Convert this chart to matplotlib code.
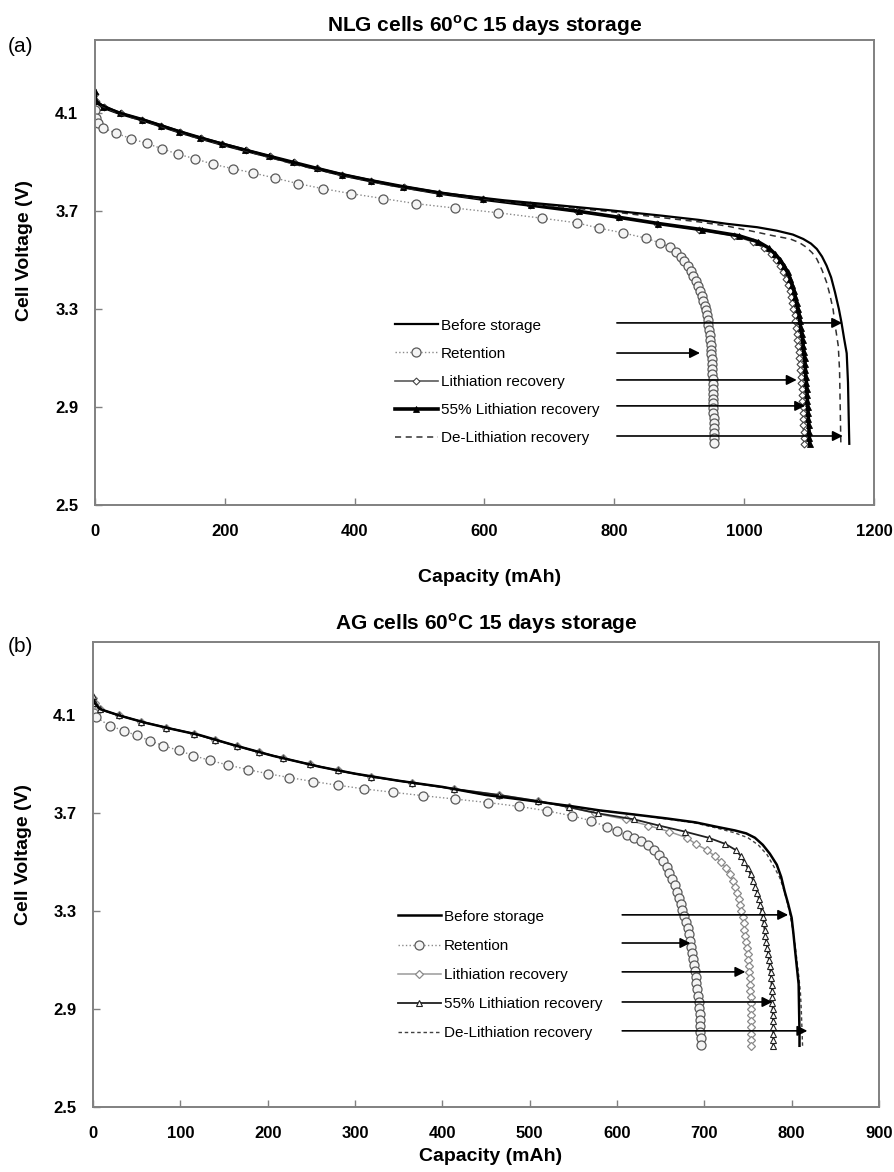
import matplotlib
matplotlib.use("Agg")
import matplotlib.pyplot as plt

plt.rcParams["font.family"] = ["Liberation Sans", "DejaVu Sans"]
plt.rcParams["mathtext.fontset"] = "custom"
plt.rcParams["mathtext.rm"] = "Liberation Sans"
plt.rcParams["mathtext.bf"] = "Liberation Sans:bold"

# ---------------- (a) NLG cells ----------------
nlg_before_cap = [0, 2, 10, 40, 80, 150, 234, 310, 388, 465, 542, 630, 716, 790, 870, 930, 973,
                  1020, 1050, 1075, 1091, 1103, 1112, 1120, 1127, 1134, 1140, 1146, 1150, 1154,
                  1158, 1160, 1161, 1162]
nlg_before_v = [4.17, 4.15, 4.135, 4.10, 4.07, 4.01, 3.95, 3.895, 3.847, 3.805, 3.772, 3.745, 3.724,
                3.705, 3.683, 3.665, 3.649, 3.635, 3.621, 3.605, 3.587, 3.568, 3.546, 3.515, 3.478,
                3.43, 3.369, 3.30, 3.245, 3.18, 3.12, 3.0, 2.87, 2.75]

nlg_ret_cap = [0, 1, 4, 13, 33, 56, 80, 103, 128, 154, 182, 213, 243, 277, 313, 352, 395, 444, 495,
               555, 621, 688, 742, 777, 813, 849, 870, 886, 895, 902, 908, 913, 918, 922, 926, 929,
               932, 935, 937, 939, 941, 943, 944, 945, 946, 947, 948, 948.5, 949, 949.5, 950, 950.5,
               951, 951, 951.5, 951.5, 952, 952, 952, 952.5, 952.5, 952.5, 953, 953, 953, 953, 953,
               953]
nlg_ret_v = [4.113, 4.08, 4.06, 4.04, 4.018, 3.997, 3.977, 3.956, 3.933, 3.915, 3.892, 3.874, 3.857,
             3.836, 3.813, 3.792, 3.772, 3.752, 3.731, 3.713, 3.694, 3.672, 3.653, 3.631, 3.612,
             3.590, 3.571, 3.553, 3.535, 3.515, 3.495, 3.475, 3.455, 3.435, 3.415, 3.395, 3.375,
             3.355, 3.335, 3.315, 3.295, 3.275, 3.255, 3.235, 3.215, 3.195, 3.175, 3.155, 3.135,
             3.115, 3.095, 3.075, 3.055, 3.035, 3.015, 2.995, 2.975, 2.955, 2.935, 2.915, 2.895,
             2.875, 2.855, 2.835, 2.815, 2.795, 2.775, 2.755]

nlg_lith_cap = [0, 1, 14, 40, 73, 102, 131, 163, 196, 232, 270, 306, 342, 380, 425, 476, 530, 597,
                670, 742, 806, 866, 930, 985, 1014, 1031, 1042, 1049, 1055, 1060, 1064, 1067, 1070,
                1072, 1074, 1076, 1078, 1079, 1080, 1081, 1082, 1083, 1084, 1085, 1086, 1086.5,
                1087, 1088, 1088.5, 1089, 1089.5, 1090, 1090.5, 1091, 1091, 1091.5, 1092, 1092]
nlg_lith_v = [4.18, 4.15, 4.125, 4.10, 4.075, 4.05, 4.025, 4.0, 3.975, 3.95, 3.925, 3.90, 3.875,
              3.85, 3.825, 3.80, 3.775, 3.75, 3.725, 3.70, 3.675, 3.65, 3.625, 3.60, 3.575, 3.55,
              3.525, 3.50, 3.475, 3.45, 3.425, 3.40, 3.375, 3.35, 3.325, 3.30, 3.275, 3.25, 3.225,
              3.20, 3.175, 3.15, 3.125, 3.10, 3.075, 3.05, 3.025, 3.00, 2.975, 2.95, 2.925, 2.90,
              2.875, 2.85, 2.825, 2.80, 2.775, 2.75]

nlg_l55_cap = [0, 1, 13, 39, 72, 101, 130, 162, 195, 231, 268, 305, 342, 380, 425, 475, 530, 597,
               672, 745, 808, 868, 935, 992, 1022, 1038, 1048, 1056, 1062, 1067, 1071, 1074, 1077,
               1079, 1081, 1083, 1085, 1086, 1087, 1089, 1090, 1091, 1092, 1093, 1094, 1094.5,
               1095, 1096, 1096.5, 1097, 1097.5, 1098, 1098.5, 1099, 1099.5, 1100, 1100.5, 1101]
nlg_l55_v = [4.19, 4.15, 4.125, 4.10, 4.075, 4.05, 4.025, 4.0, 3.975, 3.95, 3.925, 3.90, 3.875,
             3.85, 3.825, 3.80, 3.775, 3.75, 3.725, 3.70, 3.675, 3.65, 3.625, 3.60, 3.575, 3.55,
             3.525, 3.50, 3.475, 3.45, 3.425, 3.40, 3.375, 3.35, 3.325, 3.30, 3.275, 3.25, 3.225,
             3.20, 3.175, 3.15, 3.125, 3.10, 3.075, 3.05, 3.025, 3.00, 2.975, 2.95, 2.925, 2.90,
             2.875, 2.85, 2.825, 2.80, 2.775, 2.75]

nlg_deli_cap = [0, 2, 10, 40, 80, 150, 234, 310, 388, 465, 542, 630, 716, 790, 870, 930, 973, 1010,
                1045, 1071, 1085, 1096, 1105, 1112, 1120, 1127, 1132, 1137, 1141, 1145, 1147, 1148,
                1149]
nlg_deli_v = [4.17, 4.15, 4.13, 4.095, 4.065, 4.005, 3.945, 3.89, 3.842, 3.80, 3.768, 3.74, 3.718,
              3.70, 3.675, 3.657, 3.64, 3.62, 3.60, 3.587, 3.572, 3.553, 3.53, 3.505, 3.46, 3.41,
              3.36, 3.30, 3.22, 3.15, 3.05, 2.90, 2.75]

# arrows: voltage level, tip capacity, common start capacity
nlg_arrow_v = [3.244, 3.121, 3.011, 2.905, 2.782]
nlg_arrow_tip = [1151, 932, 1081, 1094, 1152]
nlg_arrow_start = 804

# ---------------- (b) AG cells ----------------
ag_before_cap = [0, 2, 8, 30, 60, 90, 122, 160, 206, 260, 300, 350, 400, 450, 500, 550, 580, 620,
                 657, 690, 714, 735, 748, 758, 767, 775, 783, 788, 792, 796, 800, 802, 804, 806, 808,
                 808.5, 809, 809]
ag_before_v = [4.17, 4.15, 4.126, 4.10, 4.07, 4.045, 4.02, 3.98, 3.935, 3.89, 3.862, 3.833, 3.808,
               3.775, 3.752, 3.728, 3.712, 3.695, 3.679, 3.663, 3.645, 3.63, 3.618, 3.60, 3.571,
               3.535, 3.49, 3.44, 3.381, 3.33, 3.273, 3.21, 3.138, 3.07, 3.002, 2.9, 2.8, 2.75]

ag_ret_cap = [0, 1, 4, 19, 35, 50, 65, 80, 98, 115, 134, 155, 177, 200, 225, 252, 280, 310, 343,
              378, 415, 452, 488, 520, 548, 570, 588, 600, 611, 620, 628, 636, 642, 648, 653, 657,
              660, 663, 666, 669, 671, 673, 675, 677, 679, 681, 683, 684, 685, 686, 687, 688, 689,
              690, 691, 692, 693, 693.5, 694, 694.5, 695, 695, 695.5, 696, 696]
ag_ret_v = [4.13, 4.11, 4.092, 4.058, 4.038, 4.018, 3.997, 3.977, 3.957, 3.936, 3.916, 3.897,
            3.879, 3.862, 3.846, 3.83, 3.815, 3.80, 3.786, 3.772, 3.758, 3.744, 3.728, 3.71, 3.69,
            3.67, 3.645, 3.628, 3.611, 3.598, 3.586, 3.57, 3.552, 3.53, 3.505, 3.48, 3.455, 3.43,
            3.405, 3.38, 3.355, 3.33, 3.305, 3.28, 3.255, 3.23, 3.205, 3.18, 3.155, 3.13, 3.105,
            3.08, 3.055, 3.03, 3.005, 2.98, 2.955, 2.93, 2.905, 2.88, 2.855, 2.83, 2.805, 2.78,
            2.755]

ag_lith_cap = [0, 2, 8, 30, 55, 84, 116, 140, 165, 190, 218, 248, 280, 318, 365, 413, 465, 510,
               545, 575, 610, 636, 660, 680, 690, 703, 712, 719, 725, 729, 733, 735.5, 737.5, 739.5,
               741, 742.5, 744, 745, 746, 747, 748, 748.8, 749.5, 750.2, 750.8, 751.3, 751.8, 752.2,
               752.6, 753, 753.3, 753.5, 753.7, 753.9, 754, 754, 754, 754]
ag_lith_v = [4.17, 4.15, 4.125, 4.10, 4.075, 4.05, 4.025, 4.0, 3.975, 3.95, 3.925, 3.90, 3.875,
             3.85, 3.825, 3.80, 3.775, 3.75, 3.725, 3.70, 3.675, 3.65, 3.625, 3.60, 3.575, 3.55,
             3.525, 3.50, 3.475, 3.45, 3.425, 3.40, 3.375, 3.35, 3.325, 3.30, 3.275, 3.25, 3.225,
             3.20, 3.175, 3.15, 3.125, 3.10, 3.075, 3.05, 3.025, 3.00, 2.975, 2.95, 2.925, 2.90,
             2.875, 2.85, 2.825, 2.80, 2.775, 2.75]

ag_l55_cap = [0, 2, 8, 30, 55, 84, 116, 140, 165, 190, 218, 248, 280, 318, 365, 413, 465, 510, 545,
              578, 620, 648, 678, 705, 724, 736, 742, 746, 750, 753, 756, 758.5, 760.5, 762.5, 764,
              765.5, 767, 768, 769, 770, 771, 772, 773, 774, 775, 775.8, 776.5, 777, 777.5, 777.8,
              778, 778.3, 778.5, 778.7, 778.9, 779, 779, 779]
ag_l55_v = [4.18, 4.15, 4.125, 4.10, 4.075, 4.05, 4.025, 4.0, 3.975, 3.95, 3.925, 3.90, 3.875,
            3.85, 3.825, 3.80, 3.775, 3.75, 3.725, 3.70, 3.675, 3.65, 3.625, 3.60, 3.575, 3.55,
            3.525, 3.50, 3.475, 3.45, 3.425, 3.40, 3.375, 3.35, 3.325, 3.30, 3.275, 3.25, 3.225,
            3.20, 3.175, 3.15, 3.125, 3.10, 3.075, 3.05, 3.025, 3.00, 2.975, 2.95, 2.925, 2.90,
            2.875, 2.85, 2.825, 2.80, 2.775, 2.75]

ag_deli_cap = [0, 2, 8, 30, 60, 90, 122, 160, 206, 260, 300, 350, 400, 450, 500, 550, 580, 620, 657,
               690, 714, 735, 750, 762, 772, 780, 786, 790, 794, 798, 801, 804, 806, 808, 810, 811,
               812, 812.5]
ag_deli_v = [4.17, 4.15, 4.126, 4.10, 4.07, 4.045, 4.02, 3.98, 3.935, 3.89, 3.862, 3.833, 3.808,
             3.775, 3.752, 3.728, 3.712, 3.695, 3.677, 3.66, 3.64, 3.62, 3.60, 3.57, 3.53, 3.48,
             3.44, 3.40, 3.35, 3.29, 3.23, 3.16, 3.10, 3.04, 2.97, 2.9, 2.8, 2.75]

ag_arrow_v = [3.285, 3.170, 3.052, 2.929, 2.811]
ag_arrow_tip = [796, 684, 747, 778, 818]
ag_arrow_start = 606

labels = ["Before storage", "Retention", "Lithiation recovery",
          "55% Lithiation recovery", "De-Lithiation recovery"]

y_ticks = [2.5, 2.9, 3.3, 3.7, 4.1]
nlg_x_ticks = [0, 200, 400, 600, 800, 1000, 1200]
ag_x_ticks = [0, 100, 200, 300, 400, 500, 600, 700, 800, 900]

SPINE = "#808080"

ret_style = dict(color="#8a8a8a", ls=":", lw=1.0, marker="o", ms=6.5, mfc="#f4f4f4",
                 mec="#5a5a5a", mew=0.9)

nlg_styles = [
    dict(color="black", ls="-", lw=1.6),
    ret_style,
    dict(color="#5a5a5a", ls="-", lw=1.2, marker="D", ms=3.5, mfc="white", mec="#454545", mew=0.8),
    dict(color="black", ls="-", lw=2.6, marker="^", ms=4.5, mfc="black", mec="black", mew=0.6),
    dict(color="#303030", ls=(0, (4, 3)), lw=1.1),
]
ag_styles = [
    dict(color="black", ls="-", lw=1.8),
    ret_style,
    dict(color="#9a9a9a", ls="-", lw=1.1, marker="D", ms=4.5, mfc="white", mec="#8a8a8a", mew=0.9),
    dict(color="#202020", ls="-", lw=1.3, marker="^", ms=4, mfc="white", mec="#202020", mew=0.8),
    dict(color="#404040", ls=(0, (2.5, 2)), lw=1.0),
]


def draw_panel(ax, data, styles, arrow_v, arrow_tip, arrow_start, xmax, xticks,
               title, title_pad, leg_anchor, leg_spacing, xlabel_y, ylabel_pos):
    # draw order: retention, recoveries, then reference curve on top
    lines = [None] * 5
    for idx in [1, 2, 3, 4, 0]:
        cap, v = data[idx]
        (ln,) = ax.plot(cap, v, label=labels[idx], **styles[idx])
        lines[idx] = ln

    for yv, tip in zip(arrow_v, arrow_tip):
        ax.annotate("", xy=(tip, yv), xytext=(arrow_start, yv),
                    arrowprops=dict(arrowstyle="-|>", color="black", lw=1.2,
                                    mutation_scale=15, shrinkA=0, shrinkB=0))

    ax.set_xlim(0, xmax)
    ax.set_ylim(2.5, 4.4)
    ax.set_xticks(xticks)
    ax.set_yticks(y_ticks)
    ax.set_yticklabels([f"{t:.1f}" for t in y_ticks])
    ax.tick_params(direction="in", length=5, width=1.0, color=SPINE, labelsize=12)
    ax.tick_params(axis="x", pad=14)
    ax.tick_params(axis="y", pad=12)
    for lbl in ax.get_xticklabels() + ax.get_yticklabels():
        lbl.set_fontweight("bold")
    for sp in ax.spines.values():
        sp.set_color(SPINE)
        sp.set_linewidth(1.4)

    ax.set_title(title, fontsize=15, fontweight="bold", pad=title_pad)
    ax.set_xlabel("Capacity (mAh)", fontsize=14, fontweight="bold")
    ax.set_ylabel("Cell Voltage (V)", fontsize=14, fontweight="bold")
    ax.xaxis.set_label_coords(0.506, xlabel_y)
    ax.yaxis.set_label_coords(*ylabel_pos)

    ax.legend(lines, labels, loc="upper left", bbox_to_anchor=leg_anchor, frameon=False,
              fontsize=11, handlelength=2.8, handletextpad=0.2, labelspacing=leg_spacing,
              borderpad=0, borderaxespad=0, numpoints=1)


fig = plt.figure(figsize=(8.95, 11.72), dpi=100)
ax_a = fig.add_axes([0.1061, 0.5691, 0.8704, 0.3968])
ax_b = fig.add_axes([0.1039, 0.0555, 0.8782, 0.3967])

nlg_data = [(nlg_before_cap, nlg_before_v), (nlg_ret_cap, nlg_ret_v),
            (nlg_lith_cap, nlg_lith_v), (nlg_l55_cap, nlg_l55_v), (nlg_deli_cap, nlg_deli_v)]
ag_data = [(ag_before_cap, ag_before_v), (ag_ret_cap, ag_ret_v),
           (ag_lith_cap, ag_lith_v), (ag_l55_cap, ag_l55_v), (ag_deli_cap, ag_deli_v)]

draw_panel(ax_a, nlg_data, nlg_styles, nlg_arrow_v, nlg_arrow_tip, nlg_arrow_start, 1200,
           nlg_x_ticks, r"NLG cells 60$^{\mathbf{o}}$C 15 days storage", 6,
           (0.385, 0.401), 0.93, -0.138, (-0.080, 0.548))
draw_panel(ax_b, ag_data, ag_styles, ag_arrow_v, ag_arrow_tip, ag_arrow_start, 900,
           ag_x_ticks, r"AG cells 60$^{\mathbf{o}}$C 15 days storage", 9,
           (0.388, 0.424), 0.99, -0.088, (-0.078, 0.542))

fig.text(8 / 895, 1 - 47 / 1172, "(a)", fontsize=15, ha="left", va="center")
fig.text(8 / 895, 1 - 646 / 1172, "(b)", fontsize=15, ha="left", va="center")

fig.savefig("out.png", dpi=100)
